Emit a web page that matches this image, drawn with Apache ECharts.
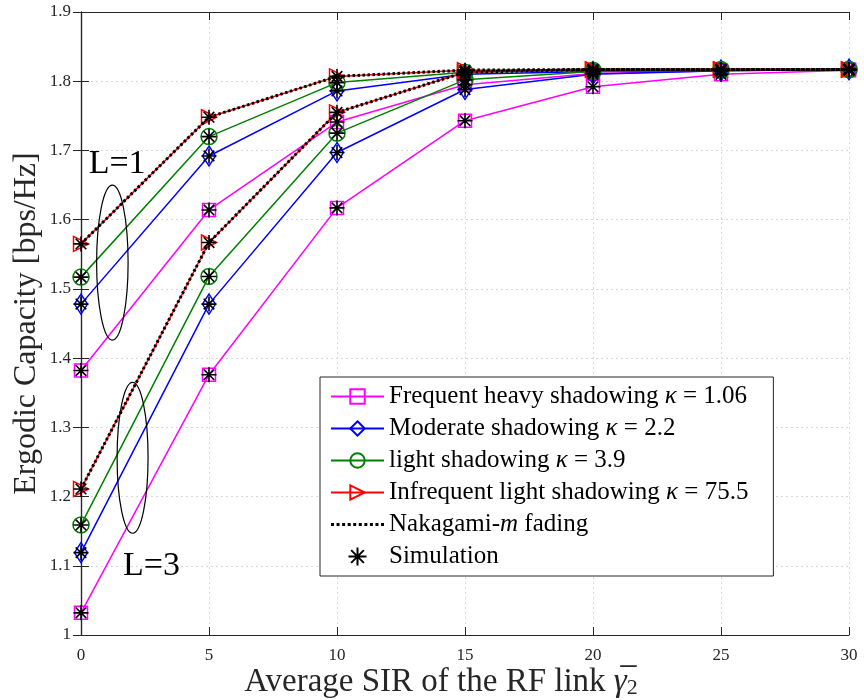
<!DOCTYPE html>
<html>
<head>
<meta charset="utf-8">
<script src="https://cdn.jsdelivr.net/npm/echarts@6/dist/echarts.min.js"></script>
<style>
html,body{margin:0;padding:0;background:#fff;}
#main{width:864px;height:700px;}
</style>
</head>
<body>
<div id="main"></div>
<script>
// ---- data ----
var sirValues = [0, 5, 10, 15, 20, 25, 30];
var xTicks = [0, 5, 10, 15, 20, 25, 30];
var yTicks = [1, 1.1, 1.2, 1.3, 1.4, 1.5, 1.6, 1.7, 1.8, 1.9];

// L = 1
var heavyL1      = [1.382, 1.614, 1.741, 1.795, 1.811, 1.815, 1.817];
var moderateL1   = [1.478, 1.692, 1.786, 1.810, 1.814, 1.816, 1.817];
var lightL1      = [1.517, 1.720, 1.798, 1.813, 1.816, 1.817, 1.817];
var infrequentL1 = [1.565, 1.748, 1.807, 1.816, 1.817, 1.817, 1.817];
// L = 3
var heavyL3      = [1.032, 1.376, 1.617, 1.743, 1.792, 1.810, 1.816];
var moderateL3   = [1.119, 1.478, 1.697, 1.788, 1.810, 1.815, 1.817];
var lightL3      = [1.159, 1.518, 1.725, 1.802, 1.814, 1.816, 1.817];
var infrequentL3 = [1.211, 1.567, 1.755, 1.813, 1.817, 1.817, 1.817];
// Nakagami-m fading (coincides with infrequent light shadowing)
var nakagamiL1 = [1.565, 1.748, 1.807, 1.816, 1.817, 1.817, 1.817];
var nakagamiL3 = [1.211, 1.567, 1.755, 1.813, 1.817, 1.817, 1.817];

var seriesNames = [
  'Frequent heavy shadowing {i|κ} = 1.06',
  'Moderate shadowing {i|κ} = 2.2',
  'light shadowing {i|κ} = 3.9',
  'Infrequent light shadowing {i|κ} = 75.5',
  'Nakagami-{i|m} fading',
  'Simulation'
];

// ---- chart ----
var SERIF = '"Liberation Serif", "DejaVu Serif", serif';
var AX = '#262626';
function pairs(ys) { return sirValues.map(function (x, i) { return [x, ys[i]]; }); }

var ASTER = 'path://M5,0L5,10M0,5L10,5M1.46,1.46L8.54,8.54M8.54,1.46L1.46,8.54';
var TRI = 'path://M0,0L10,5L0,10Z';
// dotted-line legend icon
var DOTS = 'path://';
for (var k = 0; k < 10; k++) { DOTS += 'M' + (k * 5.556).toFixed(2) + ',0h3v3h-3z'; }

function lineSeries(name, ys, color, symbol, size) {
  return {
    type: 'line', name: name, data: pairs(ys),
    symbol: symbol, symbolSize: size, showSymbol: true,
    lineStyle: { color: color, width: 1.5 },
    itemStyle: { color: 'rgba(255,255,255,0)', borderColor: color, borderWidth: 1.5 },
    emphasis: { disabled: true }, animation: false, z: 2
  };
}

var series = [
  lineSeries(seriesNames[0], heavyL1, '#ff00ff', 'rect', 13),
  lineSeries(seriesNames[0], heavyL3, '#ff00ff', 'rect', 13),
  lineSeries(seriesNames[1], moderateL1, '#0000ff', 'diamond', [13, 20]),
  lineSeries(seriesNames[1], moderateL3, '#0000ff', 'diamond', [13, 20]),
  lineSeries(seriesNames[2], lightL1, '#008000', 'circle', 16),
  lineSeries(seriesNames[2], lightL3, '#008000', 'circle', 16),
  lineSeries(seriesNames[3], infrequentL1, '#ff0000', TRI, 15),
  lineSeries(seriesNames[3], infrequentL3, '#ff0000', TRI, 15)
];
[nakagamiL1, nakagamiL3].forEach(function (ys) {
  series.push({
    type: 'line', name: seriesNames[4], data: pairs(ys),
    symbol: 'none', showSymbol: false,
    lineStyle: { color: '#000', width: 3, type: [2.5, 2.5] },
    itemStyle: { color: '#000' },
    emphasis: { disabled: true }, animation: false, z: 3
  });
});
var simData = [];
[heavyL1, moderateL1, lightL1, infrequentL1, heavyL3, moderateL3, lightL3, infrequentL3].forEach(function (ys) {
  simData = simData.concat(pairs(ys));
});
series.push({
  type: 'scatter', name: seriesNames[5], data: simData,
  symbol: ASTER, symbolSize: 15,
  itemStyle: { color: 'rgba(255,255,255,0)', borderColor: '#000', borderWidth: 1.6, opacity: 1 },
  emphasis: { disabled: true }, animation: false, z: 4
});

var gridSplit = { show: true, lineStyle: { color: '#d9d9d9', type: [2, 3], width: 1 } };

var option = {
  backgroundColor: '#fff',
  animation: false,
  grid: { left: 81, right: 15, top: 12, bottom: 65, containLabel: false, outerBoundsMode: 'none' },
  xAxis: [{
    type: 'value', min: 0, max: 30, interval: 5,
    name: 'Average SIR of the RF link {g|γ̅}{s|2}', nameLocation: 'middle', nameGap: 30,
    nameMoveOverlap: false,
    nameTextStyle: { fontFamily: SERIF, fontSize: 33, color: AX, padding: [0, 48, 0, 0],
      rich: { g: { fontFamily: SERIF, fontSize: 33, fontStyle: 'italic', color: AX },
              s: { fontFamily: SERIF, fontSize: 22, color: AX, padding: [12, 0, 0, 0] } } },
    axisLine: { show: true, lineStyle: { color: AX, width: 1.2 } },
    axisTick: { show: true, inside: true, length: 8, lineStyle: { color: AX } },
    axisLabel: { fontFamily: SERIF, fontSize: 17, color: AX, margin: 12 },
    splitLine: gridSplit
  }, {
    type: 'value', min: 0, max: 30, interval: 5, position: 'top',
    axisLine: { show: true, lineStyle: { color: AX, width: 1.2 } },
    axisTick: { show: true, inside: true, length: 8, lineStyle: { color: AX } },
    axisLabel: { show: false }, splitLine: { show: false }
  }],
  yAxis: [{
    type: 'value', min: 1, max: 1.9, interval: 0.1,
    name: 'Ergodic Capacity [bps/Hz]', nameLocation: 'middle', nameRotate: 90, nameGap: 38,
    nameMoveOverlap: false,
    nameTextStyle: { fontFamily: SERIF, fontSize: 32, color: AX },
    axisLine: { show: true, lineStyle: { color: AX, width: 1.2 } },
    axisTick: { show: true, inside: true, length: 8, lineStyle: { color: AX } },
    axisLabel: { fontFamily: SERIF, fontSize: 17, color: AX, margin: 10,
      formatter: function (v) { var t = yTicks.filter(function (y) { return Math.abs(y - v) < 1e-6; }); return t.length ? String(t[0]) : ''; } },
    splitLine: gridSplit
  }, {
    type: 'value', min: 1, max: 1.9, interval: 0.1, position: 'right',
    axisLine: { show: true, lineStyle: { color: AX, width: 1.2 } },
    axisTick: { show: true, inside: true, length: 8, lineStyle: { color: AX } },
    axisLabel: { show: false }, splitLine: { show: false }
  }],
  legend: {
    orient: 'vertical', left: 320, top: 377,
    padding: [7, 25, 7, 10],
    backgroundColor: '#fff', borderColor: '#262626', borderWidth: 1,
    itemWidth: 53, itemHeight: 18, itemGap: 7,
    data: seriesNames.map(function (n, i) {
      return i === 4 ? { name: n, icon: DOTS } : { name: n };
    }),
    formatter: function (n) { return n; },
    textStyle: { fontFamily: SERIF, fontSize: 25, color: '#000', lineHeight: 24,
      rich: { i: { fontFamily: SERIF, fontSize: 25, fontStyle: 'italic', color: '#000' } } },
    selectedMode: false
  },
  series: series
};

var chart = echarts.init(document.getElementById('main'), null, { renderer: 'canvas' });
chart.setOption(option);

// ---- annotations (in data coordinates) ----
var ellipses = [
  { x0: 0.61, x1: 1.84, y0: 1.426, y1: 1.650 },
  { x0: 1.41, x1: 2.62, y0: 1.147, y1: 1.365 }
];
var labels = [
  { text: 'L=1', x: 0.30, y: 1.680 },
  { text: 'L=3', x: 1.64, y: 1.100 }
];
var graphics = [];
ellipses.forEach(function (e) {
  var a = chart.convertToPixel({ gridIndex: 0 }, [e.x0, e.y0]);
  var b = chart.convertToPixel({ gridIndex: 0 }, [e.x1, e.y1]);
  graphics.push({
    type: 'ellipse', z: 10,
    shape: { cx: (a[0] + b[0]) / 2, cy: (a[1] + b[1]) / 2, rx: Math.abs(b[0] - a[0]) / 2, ry: Math.abs(b[1] - a[1]) / 2 },
    style: { fill: 'none', stroke: '#000', lineWidth: 1.2 }
  });
});
labels.forEach(function (l) {
  var p = chart.convertToPixel({ gridIndex: 0 }, [l.x, l.y]);
  graphics.push({
    type: 'text', z: 10, x: p[0], y: p[1],
    style: { text: l.text, fontFamily: SERIF, fontSize: 34, fill: '#000', verticalAlign: 'middle', align: 'left' }
  });
});
chart.setOption({ graphic: graphics });
</script>
</body>
</html>
